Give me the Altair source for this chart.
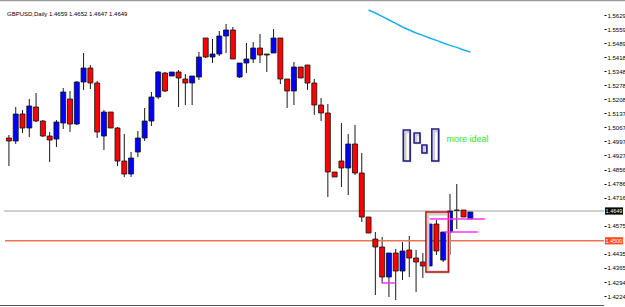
import altair as alt
import pandas as pd

# ---------------- data ----------------
day = list(range(69))
open_ = [1.5014, 1.4999, 1.5134, 1.5064, 1.5169, 1.5099, 1.5024, 1.5009, 1.5089, 1.5209,
         1.5084, 1.5294, 1.5364, 1.5289, 1.5024, 1.5144, 1.5064, 1.4899, 1.4834, 1.4944,
         1.5014, 1.5099, 1.5219, 1.5339, 1.5324, 1.5344, 1.5309, 1.5289, 1.5319, 1.5514,
         1.5419, 1.5434, 1.5524, 1.5554, 1.5319, 1.5389, 1.5409, 1.5464, 1.5434, 1.5439,
         1.5514, 1.5309, 1.5249, 1.5369, 1.5379, 1.5289, 1.5179, 1.5139, 1.4844, 1.4899,
         1.4864, 1.4984, 1.4839, 1.4619, 1.4509, 1.4469, 1.4319, 1.4439, 1.4349, 1.4454,
         1.4414, 1.4394, 1.4374, 1.4584, 1.4404, 1.4544, 1.4654, 1.4654, 1.4609]
high = [1.5029, 1.5169, 1.5154, 1.5209, 1.5239, 1.5104, 1.5044, 1.5104, 1.5264, 1.5249,
        1.5299, 1.5439, 1.5379, 1.5299, 1.5154, 1.5144, 1.5069, 1.5034, 1.4944, 1.5049,
        1.5164, 1.5244, 1.5349, 1.5344, 1.5344, 1.5354, 1.5334, 1.5324, 1.5444, 1.5514,
        1.5509, 1.5549, 1.5584, 1.5569, 1.5389, 1.5489, 1.5494, 1.5534, 1.5434, 1.5559,
        1.5514, 1.5309, 1.5394, 1.5369, 1.5379, 1.5309, 1.5214, 1.5184, 1.4844, 1.5089,
        1.5034, 1.5079, 1.4939, 1.4619, 1.4544, 1.4519, 1.4439, 1.4459, 1.4494, 1.4524,
        1.4454, 1.4439, 1.4584, 1.4604, 1.4544, 1.4734, 1.4784, 1.4654, 1.4644]
low = [1.4874, 1.4984, 1.5039, 1.5019, 1.5094, 1.5019, 1.4894, 1.4969, 1.5059, 1.5044,
       1.5079, 1.5254, 1.5259, 1.5014, 1.4954, 1.5064, 1.4874, 1.4819, 1.4819, 1.4919,
       1.4999, 1.5074, 1.5209, 1.5244, 1.5324, 1.5169, 1.5179, 1.5179, 1.5304, 1.5414,
       1.5389, 1.5424, 1.5439, 1.5409, 1.5314, 1.5339, 1.5389, 1.5389, 1.5344, 1.5439,
       1.5284, 1.5164, 1.5179, 1.5314, 1.5254, 1.5129, 1.5099, 1.4719, 1.4819, 1.4769,
       1.4729, 1.4829, 1.4594, 1.4539, 1.4229, 1.4289, 1.4219, 1.4204, 1.4304, 1.4319,
       1.4244, 1.4314, 1.4374, 1.4429, 1.4394, 1.4429, 1.4559, 1.4619, 1.4609]
close = [1.4999, 1.5134, 1.5064, 1.5174, 1.5099, 1.5024, 1.5004, 1.5094, 1.5244, 1.5084,
         1.5294, 1.5364, 1.5289, 1.5044, 1.5144, 1.5064, 1.4899, 1.4834, 1.4914, 1.5014,
         1.5099, 1.5219, 1.5344, 1.5249, 1.5344, 1.5314, 1.5289, 1.5324, 1.5419, 1.5419,
         1.5434, 1.5524, 1.5554, 1.5409, 1.5389, 1.5409, 1.5464, 1.5429, 1.5429, 1.5514,
         1.5309, 1.5249, 1.5369, 1.5314, 1.5289, 1.5179, 1.5139, 1.4844, 1.4819, 1.4864,
         1.4984, 1.4839, 1.4619, 1.4539, 1.4469, 1.4319, 1.4439, 1.4349, 1.4449, 1.4414,
         1.4394, 1.4374, 1.4584, 1.4449, 1.4544, 1.4649, 1.4652, 1.4619, 1.4644]

ma_day = list(range(53, 69))
ma_val = [1.5654, 1.5639, 1.5622, 1.5604, 1.5587, 1.5569, 1.5554, 1.5539,
          1.5527, 1.5514, 1.5502, 1.5489, 1.5477, 1.5467, 1.5454, 1.5444]

# price-scale labels (the ones under the two price boxes are hidden there)
tick_values = [1.5629, 1.5559, 1.5489, 1.5418, 1.5348, 1.5278, 1.5208, 1.5137,
               1.5067, 1.4997, 1.4927, 1.4856, 1.4786, 1.4716, 1.4575,
               1.4435, 1.4365, 1.4294, 1.4224]

cur_price, cur_text = [1.4649], ["1.4649"]
lvl_price, lvl_text = [1.4500], ["1.4500"]

# hand-drawn "ideal" candles (hollow)
ideal_left = [58.12, 59.71, 60.87, 62.32]
ideal_right = [59.13, 60.58, 61.59, 63.33]
ideal_top = [1.5054, 1.5039, 1.4979, 1.5059]
ideal_bottom = [1.4899, 1.4989, 1.4939, 1.4899]

# red box
box_left, box_right, box_top, box_bottom = [61.45], [64.78], [1.4644], [1.4344]

# magenta level lines
mag_start = [62.03, 64.20, 54.93]
mag_end = [70.14, 69.13, 56.96]
mag_level = [1.4609, 1.4544, 1.4289]

note_day, note_price, note_text = [64.5], [1.5009], ["more ideal"]
header = "GBPUSD,Daily  1.4659 1.4652 1.4647 1.4649"

# ---------------- chart ----------------
df = pd.DataFrame({"day": day, "open": open_, "high": high, "low": low, "close": close})
df["dir"] = ["up" if c > o else "down" for o, c in zip(open_, close)]

XS = alt.Scale(domain=[-0.58, 86.96], nice=False, zero=False)
YS = alt.Scale(domain=[1.4179, 1.5704], nice=False, zero=False)
YAX = alt.Axis(orient="right", values=tick_values, format=".4f", title="",
               domain=False, grid=False, tickSize=2, tickColor="#000000", tickWidth=1,
               labelFontSize=6, labelFont="Liberation Sans", labelColor="#000000",
               labelPadding=1, labelOverlap=False, labelBound=False, labelFlush=False)


def X(f):
    return alt.X(f, scale=XS, axis=None)


def Y(f):
    return alt.Y(f, scale=YS, axis=YAX)


base = alt.Chart(df)

wicks = base.mark_rule(color="#1a1a1a", strokeWidth=1).encode(
    x=X("day:Q"), y=Y("low:Q"), y2="high:Q")

up_bodies = base.transform_filter(alt.datum.dir == "up").mark_bar(
    size=5, fill="#0000FF", stroke="#111111", strokeWidth=0.8).encode(
    x=X("day:Q"), y=Y("open:Q"), y2="close:Q")
down_bodies = base.transform_filter(alt.datum.dir == "down").mark_bar(
    size=5, fill="#FF0000", stroke="#111111", strokeWidth=0.8).encode(
    x=X("day:Q"), y=Y("open:Q"), y2="close:Q")

ma = alt.Chart(pd.DataFrame({"day": ma_day, "v": ma_val})).mark_line(
    color="#1EAEF0", strokeWidth=1.5).encode(x=X("day:Q"), y=Y("v:Q"))

cur_df = pd.DataFrame({"p": cur_price, "t": cur_text})
lvl_df = pd.DataFrame({"p": lvl_price, "t": lvl_text})

cur_line = alt.Chart(cur_df).mark_rule(color="#9EA4A8", strokeWidth=1.2).encode(
    x=alt.value(4), x2=alt.value(604), y=Y("p:Q"))
lvl_line = alt.Chart(lvl_df).mark_rule(color="#EC7350", strokeWidth=1.4).encode(
    x=alt.value(5), x2=alt.value(604), y=Y("p:Q"))

BOX = "M-1,-0.4H1V0.4H-1Z"
cur_box = alt.Chart(cur_df).mark_point(shape=BOX, filled=True, size=324, opacity=1,
                                       fill="#000000", strokeWidth=0).encode(
    x=alt.value(614), y=Y("p:Q"))
lvl_box = alt.Chart(lvl_df).mark_point(shape=BOX, filled=True, size=324, opacity=1,
                                       fill="#FF4A1C", strokeWidth=0).encode(
    x=alt.value(614), y=Y("p:Q"))
cur_txt = alt.Chart(cur_df).mark_text(color="white", fontSize=5.5, font="Liberation Sans",
                                      align="center", baseline="middle").encode(
    x=alt.value(614), y=Y("p:Q"), text="t:N")
lvl_txt = alt.Chart(lvl_df).mark_text(color="white", fontSize=5.5, font="Liberation Sans",
                                      align="center", baseline="middle").encode(
    x=alt.value(614), y=Y("p:Q"), text="t:N")

ideal = pd.DataFrame({"l": ideal_left, "r": ideal_right, "t": ideal_top, "b": ideal_bottom})
ideal_shadow = alt.Chart(ideal).mark_rect(fillOpacity=0, stroke="#cfcfcf", strokeWidth=2.5,
                                          xOffset=2, yOffset=2).encode(
    x=X("l:Q"), x2="r:Q", y=Y("t:Q"), y2="b:Q")
ideal_rects = alt.Chart(ideal).mark_rect(fillOpacity=0, stroke="#1F1F80", strokeWidth=1.6).encode(
    x=X("l:Q"), x2="r:Q", y=Y("t:Q"), y2="b:Q")

box = pd.DataFrame({"l": box_left, "r": box_right, "t": box_top, "b": box_bottom})
box_shadow = alt.Chart(box).mark_rect(fillOpacity=0, stroke="#d0d0d0", strokeWidth=3,
                                      xOffset=2, yOffset=2).encode(
    x=X("l:Q"), x2="r:Q", y=Y("t:Q"), y2="b:Q")
box_rect = alt.Chart(box).mark_rect(fillOpacity=0, stroke="#C41010", strokeWidth=1.5).encode(
    x=X("l:Q"), x2="r:Q", y=Y("t:Q"), y2="b:Q")

mag = alt.Chart(pd.DataFrame({"s": mag_start, "e": mag_end, "p": mag_level})).mark_rule(
    color="#FF30FF", strokeWidth=1.5).encode(x=X("s:Q"), x2="e:Q", y=Y("p:Q"))

note = alt.Chart(pd.DataFrame({"d": note_day, "p": note_price, "t": note_text})).mark_text(
    color="#2EE62E", fontSize=9, font="Liberation Sans", align="left", baseline="middle").encode(
    x=X("d:Q"), y=Y("p:Q"), text="t:N")

head = alt.Chart(pd.DataFrame({"t": [header]})).mark_text(
    color="#000000", fontSize=6, font="Liberation Sans", align="left", baseline="middle").encode(
    x=alt.value(7), y=alt.value(14), text="t:N")

frame = pd.DataFrame({"a": [0]})
top_line = alt.Chart(frame).mark_rule(color="#9a9a9a", strokeWidth=1.5).encode(
    x=alt.value(0), x2=alt.value(625), y=alt.value(0.5))
bottom_line = alt.Chart(frame).mark_rule(color="#555555", strokeWidth=1.2).encode(
    x=alt.value(0), x2=alt.value(604), y=alt.value(305.5))

chart = alt.layer(
    wicks, top_line, bottom_line, cur_line, lvl_line, ma, up_bodies, down_bodies,
    box_shadow, box_rect, mag, ideal_shadow, ideal_rects, note,
    cur_box, lvl_box, cur_txt, lvl_txt, head,
).properties(
    width=604, height=305,
    autosize=alt.AutoSizeParams(type="none"),
    padding={"left": 0, "top": 0, "right": 21, "bottom": 2},
    background="white",
).configure_view(strokeOpacity=0)

chart.save("out.html", embed_options={"renderer": "svg", "actions": False})
